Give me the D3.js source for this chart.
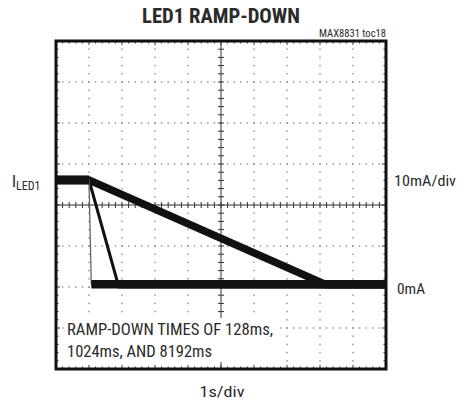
<!DOCTYPE html>
<html>
<head>
<meta charset="utf-8">
<script src="https://cdn.jsdelivr.net/npm/d3@7"></script>
<style>
  body { margin: 0; background: #fff; }
  svg { display: block; }
  text { font-family: 'Liberation Sans Narrow', 'Roboto Condensed', 'DejaVu Sans Condensed', 'Liberation Sans', sans-serif; fill: #2a2a2a; }
</style>
</head>
<body>
<svg width="461" height="405"></svg>
<script>
var svg = d3.select('svg');

// scope data: time in s, LED current in mA
var time128 = [0, 1.0, 1.07, 10];
var curr128 = [25.4, 25.4, 0, 0];
var time1024 = [0, 1.0, 1.88, 10];
var curr1024 = [25.4, 25.4, 0, 0];
var time8192 = [0, 1.0, 8.15, 10];
var curr8192 = [25.4, 25.4, 0, 0];

// screen divisions: 10 across (1s/div), 8 down (10mA/div)
var xDivs = d3.range(0, 11);
var yDivs = d3.range(0, 9).map(function(k){ return 59.3 - 10 * k; });

var xScale = d3.scaleLinear().domain([0, 10]).range([56, 386]);
var yScale = d3.scaleLinear().domain([-20.7, 59.3]).range([369, 41]);

var x0 = 56, x1 = 386, y0 = 41, y1 = 369;
var xc = xScale(5), yc = yScale(yDivs[4]);

// dotted grid
var grid = svg.append('g').attr('fill', '#8a8a8a');
xDivs.slice(1, 10).forEach(function(d){
   if (d === 5) return;
   d3.range(0, 41).forEach(function(k){
      grid.append('rect')
         .attr('x', xScale(d) - 0.7).attr('y', y0 + k * 8.2 - 0.7)
         .attr('width', 1.4).attr('height', 1.4);
   });
});
yDivs.slice(1, 8).forEach(function(d, i){
   if (i === 3) return;
   d3.range(0, 51).forEach(function(k){
      grid.append('rect')
         .attr('x', x0 + k * 6.6 - 0.7).attr('y', yScale(d) - 0.7)
         .attr('width', 1.4).attr('height', 1.4);
   });
});

// center cross with minor ticks
var axes = svg.append('g').attr('stroke', '#333').attr('stroke-width', 1);
axes.append('line').attr('x1', x0).attr('x2', x1).attr('y1', yc).attr('y2', yc);
axes.append('line').attr('x1', xc).attr('x2', xc).attr('y1', y0).attr('y2', y1);
d3.range(0, 51).forEach(function(k){
   var x = x0 + k * 6.6;
   axes.append('line').attr('x1', x).attr('x2', x).attr('y1', yc - 3).attr('y2', yc + 3);
   axes.append('line').attr('x1', x).attr('x2', x).attr('y1', y0).attr('y2', y0 + (k % 5 ? 2.5 : 4));
   axes.append('line').attr('x1', x).attr('x2', x).attr('y1', y1).attr('y2', y1 - (k % 5 ? 2.5 : 4));
});
d3.range(0, 41).forEach(function(k){
   var y = y0 + k * 8.2;
   axes.append('line').attr('x1', xc - 3).attr('x2', xc + 3).attr('y1', y).attr('y2', y);
   axes.append('line').attr('x1', x0).attr('x2', x0 + (k % 5 ? 2.5 : 4)).attr('y1', y).attr('y2', y);
   axes.append('line').attr('x1', x1).attr('x2', x1 - (k % 5 ? 2.5 : 4)).attr('y1', y).attr('y2', y);
});

// traces
var traces = [
   { t: time8192, i: curr8192, w: 7.5, c: '#111' },
   { t: time1024, i: curr1024, w: 3, c: '#111' },
   { t: time128, i: curr128, w: 1.3, c: '#666' }
];
var line = d3.line()
   .x(function(d){ return xScale(d[0]); })
   .y(function(d){ return yScale(d[1]); });

var traceG = svg.append('g').attr('fill', 'none');
traces.forEach(function(tr){
   var pts = tr.t.map(function(t, k){ return [t, tr.i[k]]; });
   traceG.append('path')
      .attr('d', line(pts))
      .attr('stroke', tr.c)
      .attr('stroke-width', tr.w);
   // settled levels are drawn thick (noisy persistence)
   for (var k = 0; k < pts.length - 1; k++) {
      if (pts[k][1] === pts[k + 1][1]) {
         traceG.append('path')
            .attr('d', line([pts[k], pts[k + 1]]))
            .attr('stroke', '#111')
            .attr('stroke-width', 8.5);
      }
   }
});

// note box
svg.append('rect')
   .attr('x', 64).attr('y', 318).attr('width', 216).attr('height', 44)
   .attr('fill', '#fff');
svg.append('text').attr('x', 67).attr('y', 335)
   .attr('font-size', 16).attr('textLength', 206).attr('lengthAdjust', 'spacingAndGlyphs')
   .text('RAMP-DOWN TIMES OF 128ms,');
svg.append('text').attr('x', 67).attr('y', 357)
   .attr('font-size', 16).attr('textLength', 145).attr('lengthAdjust', 'spacingAndGlyphs')
   .text('1024ms, AND 8192ms');

// frame
svg.append('rect')
   .attr('x', x0).attr('y', y0).attr('width', x1 - x0).attr('height', y1 - y0)
   .attr('fill', 'none').attr('stroke', '#111').attr('stroke-width', 3);

// labels
svg.append('text').attr('x', 221).attr('y', 23)
   .attr('text-anchor', 'middle').attr('font-size', 21).attr('font-weight', 'bold')
   .attr('textLength', 158).attr('lengthAdjust', 'spacingAndGlyphs')
   .text('LED1 RAMP-DOWN');
svg.append('text').attr('x', 386).attr('y', 37)
   .attr('text-anchor', 'end').attr('font-size', 10).attr('fill', '#444')
   .attr('textLength', 67).attr('lengthAdjust', 'spacingAndGlyphs')
   .text('MAX8831 toc18');

var iLabel = svg.append('text').attr('x', 12).attr('y', 187).attr('font-size', 16);
iLabel.append('tspan').text('I');
iLabel.append('tspan').attr('dy', 3).attr('font-size', 12).text('LED1');

svg.append('text').attr('x', 394).attr('y', 186).attr('font-size', 15)
   .attr('textLength', 62).attr('lengthAdjust', 'spacingAndGlyphs')
   .text('10mA/div');
svg.append('text').attr('x', 397).attr('y', 294).attr('font-size', 15)
   .attr('textLength', 28).attr('lengthAdjust', 'spacingAndGlyphs')
   .text('0mA');
svg.append('text').attr('x', 222).attr('y', 397).attr('font-size', 15)
   .attr('text-anchor', 'middle')
   .attr('textLength', 45).attr('lengthAdjust', 'spacingAndGlyphs')
   .text('1s/div');
</script>
</body>
</html>
